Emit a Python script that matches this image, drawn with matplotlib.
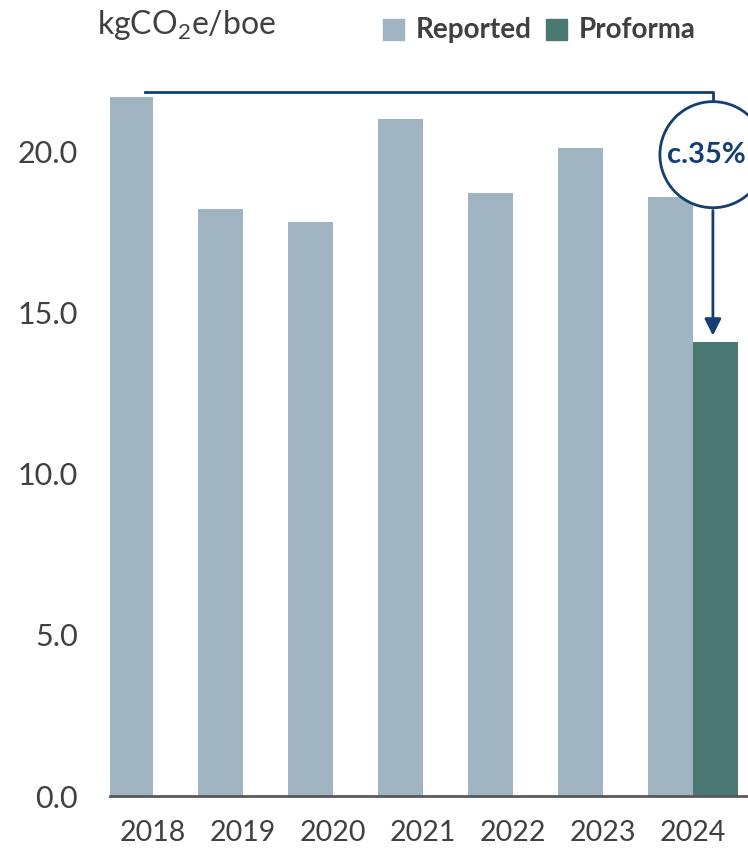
import matplotlib.pyplot as plt
import numpy as np
from matplotlib.patches import Ellipse, Rectangle

plt.rcParams['font.family'] = ['Lato', 'DejaVu Sans']
plt.rcParams['mathtext.fontset'] = 'custom'
plt.rcParams['mathtext.rm'] = 'Lato'

# Data
years = ['2018', '2019', '2020', '2021', '2022', '2023', '2024']
reported = [21.7, 18.2, 17.8, 21.0, 18.7, 20.1, 18.6]
proforma_2024 = 14.1
reduction_label = 'c.35%'

c_rep = '#A0B5C1'
c_pro = '#4A7873'
c_navy = '#133F72'
c_text = '#404040'

fig = plt.figure(figsize=(7.48, 8.51), dpi=100)
ax = fig.add_axes([110 / 748, 55 / 851, 638 / 748, 796 / 851])

x = np.arange(len(years))
w = 0.5
ax.bar(x - w / 2, reported, width=w, color=c_rep)
ax.bar(x[-1] + w / 2, proforma_2024, width=w, color=c_pro)

ax.set_xlim(-0.48, 6.61)
ax.set_ylim(0, 24.7)
ax.set_xticks(x)
ax.set_xticklabels(years)
ax.set_yticks([0, 5, 10, 15, 20])
ax.set_yticklabels(['0.0', '5.0', '10.0', '15.0', '20.0'])
ax.tick_params(axis='both', length=0, colors=c_text)
ax.tick_params(axis='x', pad=17, labelsize=20.5)
ax.tick_params(axis='y', pad=23, labelsize=22)
for s in ['top', 'right', 'left']:
    ax.spines[s].set_visible(False)
ax.spines['bottom'].set_color('#595959')
ax.spines['bottom'].set_linewidth(2)

# bracket and circle annotation
xa = x[-1] + 0.22
y_line = 21.83
cy = 19.9
ry = 53 / 32.2
rx = 53 / 90
ax.plot([-0.09, xa, xa], [y_line, y_line, cy + ry], color=c_navy, lw=2, clip_on=False)
ax.add_patch(Ellipse((xa, cy), 2 * rx, 2 * ry, facecolor='white', edgecolor=c_navy,
                     lw=2, clip_on=False, zorder=5))
ax.text(xa - 0.07, cy, reduction_label, ha='center', va='center', fontsize=21,
        fontweight='bold', color=c_navy, zorder=6)
ax.annotate('', xy=(xa, proforma_2024 + 0.1), xytext=(xa, cy - ry),
            arrowprops=dict(arrowstyle='-|>', color=c_navy, lw=2, mutation_scale=25))

# unit label
fig.text(97 / 748, 1 - 25 / 851, r'kgCO$_\mathregular{2}$e/boe', fontsize=23,
         color=c_text, ha='left', va='center')

# legend
for (lab, col, x0) in [('Reported', c_rep, 383), ('Proforma', c_pro, 546)]:
    fig.patches.append(Rectangle((x0 / 748, 1 - 40 / 851), 21 / 748, 21 / 851,
                                 transform=fig.transFigure, color=col))
    fig.text((x0 + 33) / 748, 1 - 30 / 851, lab, fontsize=20, fontweight='bold',
             color=c_text, ha='left', va='center')

fig.savefig('out.png', dpi=100)
